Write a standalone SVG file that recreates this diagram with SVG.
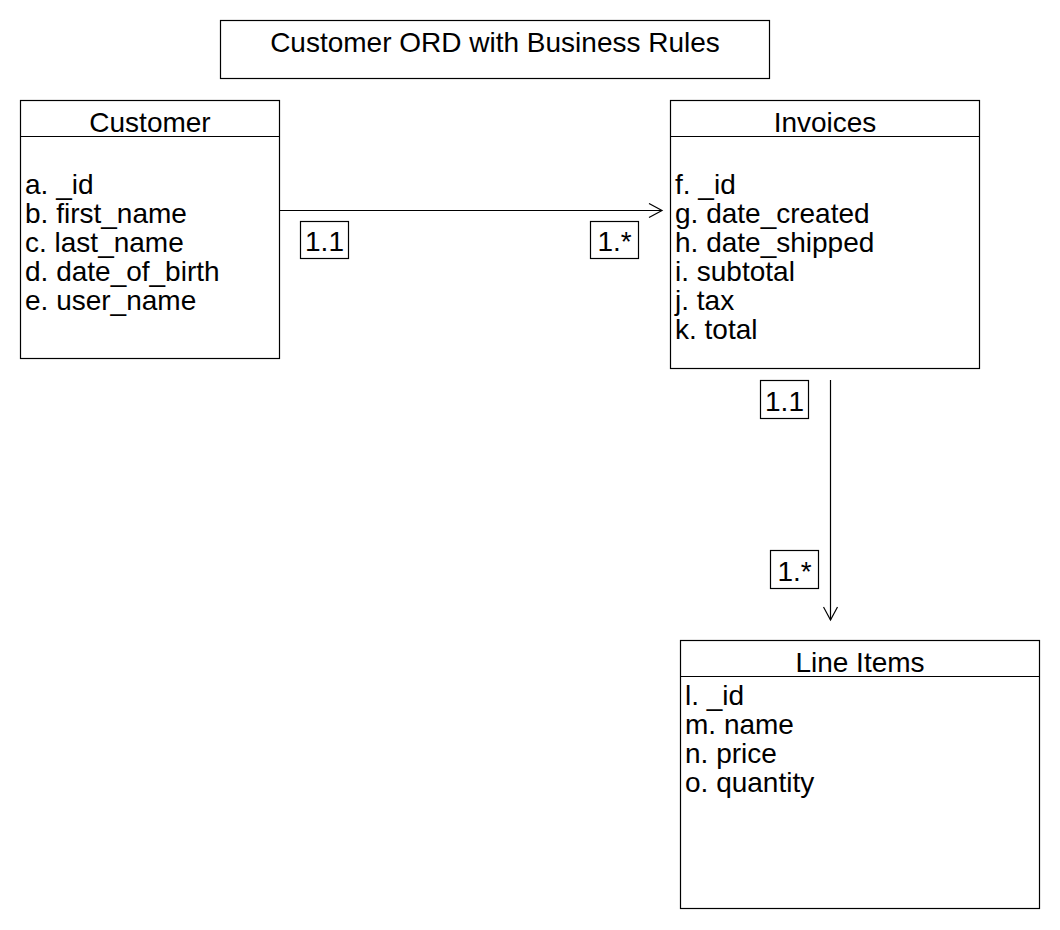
<svg xmlns="http://www.w3.org/2000/svg" width="1060" height="930" viewBox="0 0 1060 930">
<style>
.box{fill:#fff;stroke:#000;stroke-width:1.2}
.div{stroke:#000;stroke-width:1.2}
text{font-family:"Liberation Sans",Arial,sans-serif;font-size:28px;fill:#000}
.c{text-anchor:middle}
.edge{stroke:#000;stroke-width:1.2;fill:none}
</style>
<defs>
<marker id="open" markerWidth="16" markerHeight="16" refX="14" refY="8" orient="auto" markerUnits="userSpaceOnUse">
<path d="M1,1 L14,8 L1,15" fill="none" stroke="#000" stroke-width="1.2"/>
</marker>
</defs>
<rect width="1060" height="930" fill="#fff"/>
<g id="title">
<rect class="box" x="220.5" y="20.5" width="549" height="58"/>
<text class="c" x="495" y="52">Customer ORD with Business Rules</text>
</g>
<g id="customer">
<rect class="box" x="20.5" y="100.5" width="259" height="258"/>
<line class="div" x1="20.5" y1="136.5" x2="279.5" y2="136.5"/>
<text class="c" x="150" y="132">Customer</text>
<text x="25" y="194">a. _id</text>
<text x="25" y="223">b. first_name</text>
<text x="25" y="252">c. last_name</text>
<text x="25" y="281">d. date_of_birth</text>
<text x="25" y="310">e. user_name</text>
</g>
<g id="invoices">
<rect class="box" x="670.5" y="100.5" width="309" height="268"/>
<line class="div" x1="670.5" y1="136.5" x2="979.5" y2="136.5"/>
<text class="c" x="825" y="132">Invoices</text>
<text x="675" y="194">f. _id</text>
<text x="675" y="223">g. date_created</text>
<text x="675" y="252">h. date_shipped</text>
<text x="675" y="281">i. subtotal</text>
<text x="675" y="310">j. tax</text>
<text x="675" y="339">k. total</text>
</g>
<g id="lineitems">
<rect class="box" x="680.5" y="640.5" width="359" height="268"/>
<line class="div" x1="680.5" y1="676.5" x2="1039.5" y2="676.5"/>
<text class="c" x="860" y="672">Line Items</text>
<text x="685" y="705">l. _id</text>
<text x="685" y="734">m. name</text>
<text x="685" y="763">n. price</text>
<text x="685" y="792">o. quantity</text>
</g>
<g id="connectors">
<line class="edge" x1="280" y1="210.5" x2="662" y2="210.5" marker-end="url(#open)"/>
<line class="edge" x1="830.5" y1="380" x2="830.5" y2="620" marker-end="url(#open)"/>
<g id="lbl1">
<rect class="box" x="300.5" y="221.5" width="48" height="37"/>
<text class="c" x="324.5" y="251">1.1</text>
</g>
<g id="lbl2">
<rect class="box" x="590.5" y="221.5" width="48" height="37"/>
<text class="c" x="614.5" y="251">1.*</text>
</g>
<g id="lbl3">
<rect class="box" x="760.5" y="380.5" width="48" height="38"/>
<text class="c" x="784.5" y="411">1.1</text>
</g>
<g id="lbl4">
<rect class="box" x="770.5" y="550.5" width="48" height="38"/>
<text class="c" x="794.5" y="581">1.*</text>
</g>
</g>
</svg>
